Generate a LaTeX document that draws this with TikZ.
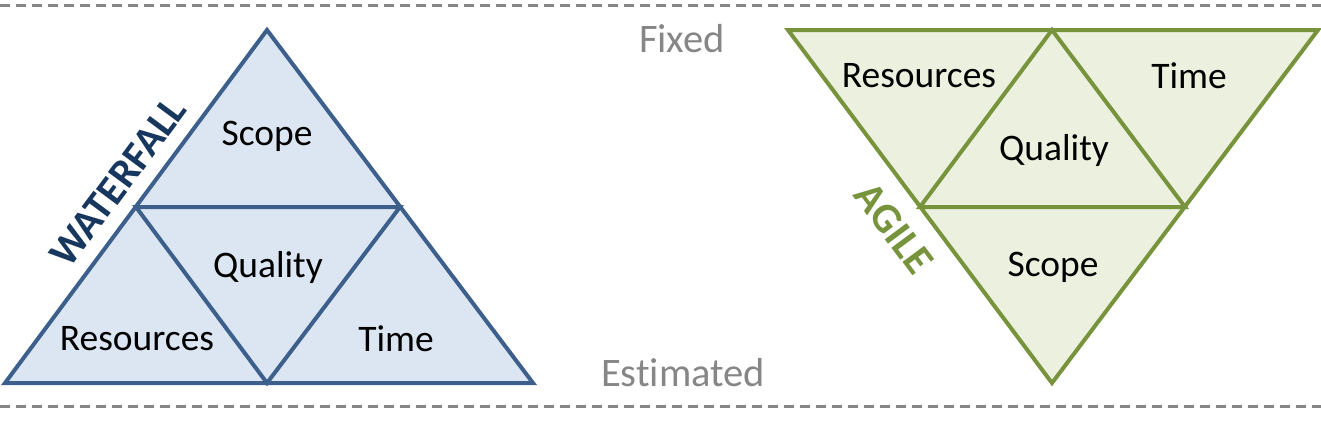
\documentclass[tikz,border=0pt]{standalone}
\usepackage{fontspec}
\setmainfont[Ligatures=NoCommon]{Carlito}
\begin{document}
\begin{tikzpicture}[x=1pt,y=-1pt,
  lbl/.style={font=\fontsize{37.5}{40}\selectfont, text=black, inner sep=0pt},
  axis/.style={font=\fontsize{40.5}{42}\selectfont, text=gray!95, inner sep=0pt},
  wf/.style={draw=wfline, fill=wffill, line width=4pt, line join=miter},
  wfin/.style={draw=wfline, line width=4pt},
  ag/.style={draw=agline, fill=agfill, line width=4pt, line join=miter},
  agin/.style={draw=agline, line width=4pt},
  sep/.style={draw=gray!95, line width=3pt, dash pattern=on 10pt off 6pt},
]
\definecolor{wfline}{HTML}{3D5F8C}
\definecolor{wffill}{HTML}{DCE6F2}
\definecolor{wftext}{HTML}{17375E}
\definecolor{agline}{HTML}{77933C}
\definecolor{agfill}{HTML}{EBF1DE}
\useasboundingbox (0,0) rectangle (1321,421);
% separators
\coordinate (tl) at (0,5);
\coordinate (tr) at (1321,5);
\coordinate (bl) at (0,406);
\coordinate (br) at (1321,406);
\draw[sep] (tl) -- (tr);
\draw[sep] (bl) -- (br);
% waterfall triangle
\coordinate (wA) at (267,30);
\coordinate (wL) at (5,383);
\coordinate (wR) at (533,383);
\coordinate (wM) at (267,383);
\coordinate (wml) at (136,207);
\coordinate (wmr) at (400,207);
\path[wf] (wA) -- (wR) -- (wL) -- cycle;
\draw[wfin] (wml) -- (wmr) -- (wM) -- cycle;
% agile triangle
\coordinate (aL) at (788,30);
\coordinate (aR) at (1318,30);
\coordinate (aB) at (1052,383);
\coordinate (aT) at (1052,30);
\coordinate (aml) at (920,207);
\coordinate (amr) at (1185,207);
\path[ag] (aL) -- (aR) -- (aB) -- cycle;
\draw[agin] (aml) -- (amr) -- (aT) -- cycle;
% labels
\node[lbl] (wscope) at (267,136) {Scope};
\node[lbl] (wqual) at (268,267) {Quality};
\node[lbl] (wres) at (137,339) {Resources};
\node[lbl] (wtime) at (396,339) {Time};
\node[lbl] (ares) at (919,76) {Resources};
\node[lbl] (atime) at (1189,76) {Time};
\node[lbl] (aqual) at (1054,150) {Quality};
\node[lbl] (ascope) at (1053,267) {Scope};
\node[axis] (fixed) at (682,39) {Fixed};
\node[axis] (est) at (683,373) {Estimated};
\node[font=\fontsize{41.5}{44}\selectfont\bfseries, text=wftext, rotate=53.4, inner sep=0pt] (wf) at (118,182) {WATERFALL};
\node[font=\fontsize{42}{44}\selectfont\bfseries, text=agline, rotate=-53.4, inner sep=0pt] (agile) at (894,228) {AGILE};
\end{tikzpicture}
\end{document}
